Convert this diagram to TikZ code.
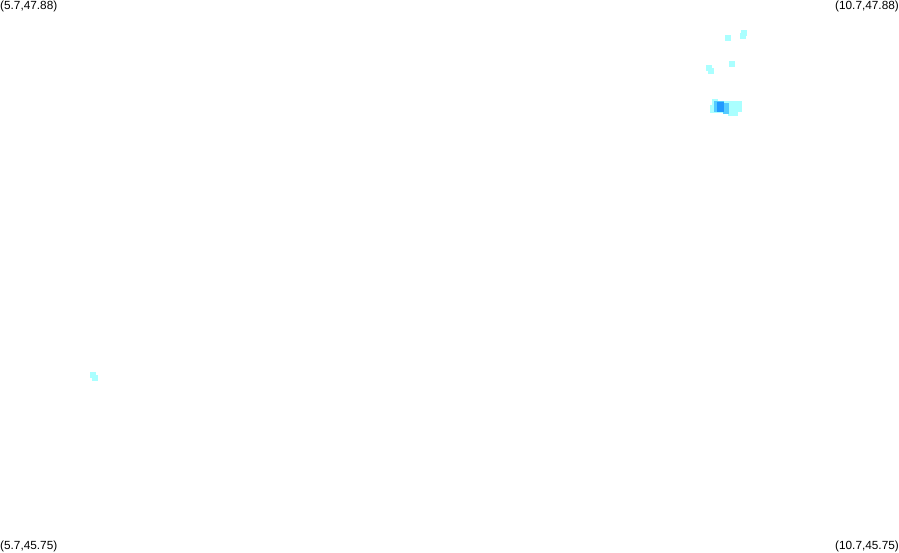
\documentclass[tikz,border=0pt]{standalone}
\usepackage{fontspec}
\setmainfont{Liberation Sans}
\definecolor{cellA}{HTML}{AAFFFF}
\definecolor{cellB}{HTML}{55CCFF}
\definecolor{cellC}{HTML}{2299FF}
\tikzset{
  corner/.style={inner sep=0pt,font=\fontsize{11.8}{13}\selectfont},
  cella/.style={fill=cellA,draw=none},
  cellb/.style={fill=cellB,draw=none},
  cellc/.style={fill=cellC,draw=none}
}
\begin{document}
\begin{tikzpicture}[x=1pt,y=-1pt]
    \useasboundingbox (0,0) rectangle (899,552);
    \node[corner,anchor=base west](nw) at (0,9){(5.7,47.88)};
    \node[corner,anchor=base east](ne) at (899,9){(10.7,47.88)};
    \node[corner,anchor=base west](sw) at (0,549.5){(5.7,45.75)};
    \node[corner,anchor=base east](se) at (899,549.5){(10.7,45.75)};

    % isolated cells
    \foreach \x/\y in {725/35,741/30,740/33,729/61,706/65,708/68,90/372,92/375}
      \fill[cella] (\x,\y) rectangle +(6,6);

    % main cluster
    \foreach \x/\y/\w/\h in {712/99/6/6,710/105/18/8,716/102/26/10,724/101/18/6,728/110/10/6}
      \fill[cella] (\x,\y) rectangle +(\w,\h);
    \fill[cellb] (714,101) rectangle (724,112);
    \fill[cellb] (723,103) rectangle (729,114);
    \fill[cellc] (717,102) rectangle (724,112);
\end{tikzpicture}
\end{document}
